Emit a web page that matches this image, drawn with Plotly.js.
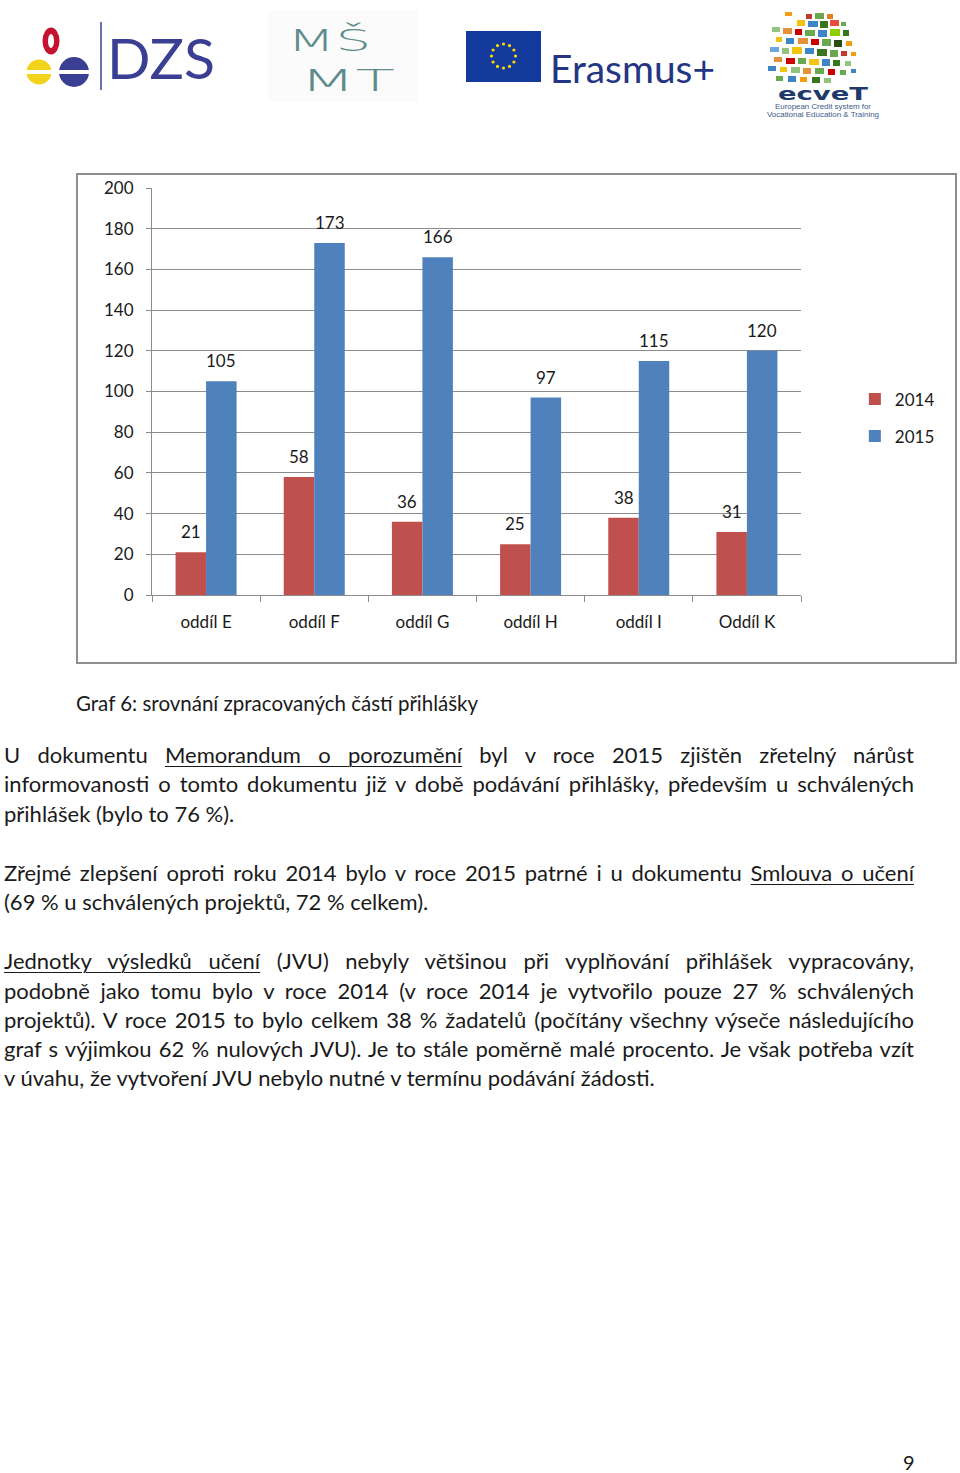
<!DOCTYPE html>
<html>
<head>
<meta charset="utf-8">
<script src="https://cdn.plot.ly/plotly-3.0.1.min.js"></script>
<style>
  html, body { margin: 0; padding: 0; background: #ffffff; }
  body { width: 960px; height: 1473px; position: relative; overflow: hidden; font-family: Lato, "Open Sans", sans-serif; color: #1a1a1a; }
  #logos { position: absolute; left: 0; top: 0; width: 960px; height: 130px; }
  #chartbox { position: absolute; left: 76px; top: 173px; width: 881px; height: 491px; box-sizing: border-box; border: 2px solid #8e8e8e; background: #fff; }
  #chart { width: 877px; height: 487px; }
  .caption { position: absolute; left: 76px; top: 689px; font-size: 20.5px; line-height: 28px; white-space: nowrap; }
  .ln { position: absolute; left: 4px; width: 910px; font-size: 22px; line-height: 29px; white-space: nowrap; }
  .j { text-align: justify; text-align-last: justify; }
  .pn { position: absolute; left: 903px; top: 1448px; font-size: 20px; line-height: 28px; }
  u { text-decoration-thickness: 1px; text-underline-offset: 3px; }
</style>
</head>
<body>
<svg id="logos" width="960" height="130" viewBox="0 0 960 130">
  <!-- DZS -->
  <ellipse cx="51" cy="41" rx="8.5" ry="13.5" fill="#c4122f"/>
  <ellipse cx="51" cy="41" rx="3" ry="7" fill="#ffffff"/>
  <circle cx="39" cy="72" r="12.5" fill="#f2d21b"/>
  <circle cx="74" cy="72" r="15" fill="#3b3f93"/>
  <rect x="24" y="70" width="70" height="4" fill="#ffffff"/>
  <line x1="101" y1="22" x2="101" y2="90" stroke="#3b3f93" stroke-width="1.5"/>
  <text x="107" y="79" font-family="Lato, sans-serif" font-size="56" fill="#3b3f93" textLength="108" lengthAdjust="spacingAndGlyphs">DZS</text>
  <!-- MSMT -->
  <rect x="268" y="10" width="150" height="92" fill="#fbfbfb"/>
  <text x="287" y="51" font-family="DejaVu Sans, sans-serif" font-weight="300" font-size="31" fill="#5e8b8b" textLength="84" lengthAdjust="spacingAndGlyphs">MŠ</text>
  <text x="300" y="91" font-family="DejaVu Sans, sans-serif" font-weight="300" font-size="31" fill="#5e8b8b" textLength="95" lengthAdjust="spacingAndGlyphs">MT</text>
  <!-- Erasmus+ -->
  <rect x="466" y="31" width="75" height="51" fill="#12399b"/>
  <g fill="#ffdd00">
    <circle cx="503.5" cy="44" r="1.6"/><circle cx="509.5" cy="45.6" r="1.6"/><circle cx="513.9" cy="50" r="1.6"/>
    <circle cx="515.5" cy="56" r="1.6"/><circle cx="513.9" cy="62" r="1.6"/><circle cx="509.5" cy="66.4" r="1.6"/>
    <circle cx="503.5" cy="68" r="1.6"/><circle cx="497.5" cy="66.4" r="1.6"/><circle cx="493.1" cy="62" r="1.6"/>
    <circle cx="491.5" cy="56" r="1.6"/><circle cx="493.1" cy="50" r="1.6"/><circle cx="497.5" cy="45.6" r="1.6"/>
  </g>
  <text x="550" y="83" font-family="Lato, sans-serif" font-size="38" fill="#233583" textLength="165" lengthAdjust="spacingAndGlyphs">Erasmus+</text>
  <!-- ECVET -->
  <g>
    <rect x="785" y="12" width="7" height="4" fill="#f39c12"/>
    <rect x="806" y="14" width="6" height="5" fill="#c0392b"/>
    <rect x="815" y="13" width="9" height="6" fill="#6aa84f"/>
    <rect x="827" y="14" width="6" height="5" fill="#e67e22"/>
    <rect x="797" y="20" width="8" height="6" fill="#f1c40f"/>
    <rect x="808" y="21" width="10" height="6" fill="#3d85c6"/>
    <rect x="820" y="21" width="8" height="7" fill="#38761d"/>
    <rect x="830" y="20" width="9" height="6" fill="#e74c3c"/>
    <rect x="841" y="22" width="5" height="4" fill="#6aa84f"/>
    <rect x="772" y="27" width="8" height="5" fill="#93c47d"/>
    <rect x="783" y="28" width="9" height="6" fill="#e69138"/>
    <rect x="795" y="29" width="7" height="6" fill="#cc0000"/>
    <rect x="805" y="30" width="10" height="6" fill="#6aa84f"/>
    <rect x="818" y="30" width="9" height="7" fill="#3d85c6"/>
    <rect x="830" y="29" width="10" height="7" fill="#8fce00"/>
    <rect x="843" y="30" width="6" height="6" fill="#38761d"/>
    <rect x="776" y="37" width="6" height="5" fill="#f1c40f"/>
    <rect x="786" y="38" width="8" height="6" fill="#3d85c6"/>
    <rect x="798" y="38" width="10" height="6" fill="#e69138"/>
    <rect x="811" y="39" width="8" height="6" fill="#cc0000"/>
    <rect x="822" y="39" width="9" height="7" fill="#6aa84f"/>
    <rect x="834" y="40" width="8" height="7" fill="#274e13"/>
    <rect x="846" y="41" width="6" height="5" fill="#f39c12"/>
    <rect x="770" y="47" width="9" height="5" fill="#6fa8dc"/>
    <rect x="782" y="48" width="7" height="6" fill="#93c47d"/>
    <rect x="792" y="47" width="10" height="7" fill="#f1c40f"/>
    <rect x="805" y="48" width="9" height="6" fill="#3d85c6"/>
    <rect x="817" y="49" width="10" height="7" fill="#38761d"/>
    <rect x="830" y="50" width="8" height="7" fill="#6aa84f"/>
    <rect x="841" y="51" width="6" height="5" fill="#c0392b"/>
    <rect x="851" y="52" width="5" height="4" fill="#f39c12"/>
    <rect x="774" y="57" width="8" height="5" fill="#e69138"/>
    <rect x="786" y="58" width="9" height="6" fill="#cc0000"/>
    <rect x="798" y="58" width="8" height="6" fill="#6aa84f"/>
    <rect x="809" y="59" width="10" height="6" fill="#f1c40f"/>
    <rect x="822" y="59" width="8" height="7" fill="#3d85c6"/>
    <rect x="833" y="60" width="7" height="6" fill="#38761d"/>
    <rect x="845" y="61" width="6" height="5" fill="#93c47d"/>
    <rect x="768" y="66" width="8" height="5" fill="#3d85c6"/>
    <rect x="780" y="67" width="7" height="5" fill="#f1c40f"/>
    <rect x="791" y="67" width="9" height="6" fill="#93c47d"/>
    <rect x="803" y="68" width="8" height="6" fill="#e69138"/>
    <rect x="815" y="68" width="9" height="6" fill="#6aa84f"/>
    <rect x="828" y="69" width="7" height="6" fill="#cc0000"/>
    <rect x="840" y="70" width="6" height="5" fill="#6aa84f"/>
    <rect x="851" y="69" width="5" height="4" fill="#3d85c6"/>
    <rect x="776" y="76" width="7" height="5" fill="#6aa84f"/>
    <rect x="788" y="76" width="8" height="6" fill="#3d85c6"/>
    <rect x="800" y="77" width="7" height="5" fill="#f39c12"/>
    <rect x="812" y="77" width="8" height="6" fill="#38761d"/>
    <rect x="824" y="78" width="7" height="5" fill="#93c47d"/>
  </g>
  <text x="778" y="100" font-family="DejaVu Sans, sans-serif" font-weight="bold" font-size="17" fill="#1f3a6a" textLength="90" lengthAdjust="spacingAndGlyphs">ecveT</text>
  <text x="775" y="109" font-family="Liberation Sans, sans-serif" font-size="6.5" fill="#3c5a8a" textLength="96" lengthAdjust="spacingAndGlyphs">European Credit system for</text>
  <text x="767" y="117" font-family="Liberation Sans, sans-serif" font-size="6.5" fill="#3c5a8a" textLength="112" lengthAdjust="spacingAndGlyphs">Vocational Education &amp; Training</text>
</svg>

<div id="chartbox"><div id="chart"></div></div>

<div class="caption">Graf 6: srovnání zpracovaných částí přihlášky</div>

<div class="ln j" style="top:740px">U dokumentu <u>Memorandum o porozumění</u> byl v&nbsp;roce 2015 zjištěn zřetelný nárůst</div>
<div class="ln j" style="top:769px">informovanosti o tomto dokumentu již v době podávání přihlášky, především u schválených</div>
<div class="ln" style="top:799px">přihlášek (bylo to 76 %).</div>

<div class="ln j" style="top:858px">Zřejmé zlepšení oproti roku 2014 bylo v roce 2015 patrné i u dokumentu <u>Smlouva o učení</u></div>
<div class="ln" style="top:887px">(69 % u schválených projektů, 72 % celkem).</div>

<div class="ln j" style="top:946px"><u>Jednotky výsledků učení</u> (JVU) nebyly většinou při vyplňování přihlášek vypracovány,</div>
<div class="ln j" style="top:976px">podobně jako tomu bylo v&nbsp;roce 2014 (v roce 2014 je vytvořilo pouze 27 % schválených</div>
<div class="ln j" style="top:1005px">projektů). V roce 2015 to bylo celkem 38 % žadatelů (počítány všechny výseče následujícího</div>
<div class="ln j" style="top:1034px">graf s výjimkou 62 % nulových JVU). Je to stále poměrně malé procento. Je však potřeba vzít</div>
<div class="ln" style="top:1063px">v úvahu, že vytvoření JVU nebylo nutné v termínu podávání žádosti.</div>

<div class="pn">9</div>

<script>
const categories = ['oddíl E', 'oddíl F', 'oddíl G', 'oddíl H', 'oddíl I', 'Oddíl K'];
const values2014 = [21, 58, 36, 25, 38, 31];
const values2015 = [105, 173, 166, 97, 115, 120];
const seriesNames = ['2014', '2015'];
const seriesColors = ['#c0504d', '#4f81bd'];
const yTickValues = [0, 20, 40, 60, 80, 100, 120, 140, 160, 180, 200];

const series = [values2014, values2015];
const fontFamily = 'Lato, "Open Sans", sans-serif';
const textColor = '#1a1a1a';
const gridColor = '#8c8c8c';

const traces = series.map((vals, i) => ({
  type: 'bar',
  name: seriesNames[i],
  x: categories,
  y: vals,
  marker: { color: seriesColors[i], line: { width: 0 } },
  legendgroup: 'g' + i,
  hoverinfo: 'skip'
}));

const barShift = 15.25;
const annotations = [];
series.forEach((vals, i) => {
  vals.forEach((v, k) => {
    annotations.push({
      x: categories[k], y: v, xref: 'x', yref: 'y',
      text: String(v), showarrow: false,
      xshift: (i === 0 ? -barShift : barShift),
      yanchor: 'bottom', yshift: 8,
      font: { family: fontFamily, size: 17, color: textColor }
    });
  });
});

const layout = {
  width: 877, height: 487,
  margin: { l: 74, r: 154, t: 13, b: 67, pad: 0 },
  paper_bgcolor: '#ffffff', plot_bgcolor: '#ffffff',
  barmode: 'group', bargap: 0.436, bargroupgap: 0,
  showlegend: true,
  legend: {
    x: 1.083, xanchor: 'left', xref: 'paper',
    y: 0.435, yanchor: 'middle',
    font: { family: fontFamily, size: 17, color: textColor },
    itemwidth: 30, tracegroupgap: 12, traceorder: 'grouped',
    bgcolor: 'rgba(0,0,0,0)'
  },
  xaxis: {
    type: 'category',
    showline: true, linecolor: gridColor, linewidth: 1,
    ticks: 'outside', tickson: 'boundaries', ticklen: 6, tickcolor: gridColor,
    tickfont: { family: fontFamily, size: 17, color: textColor },
    ticklabelstandoff: 12,
    showgrid: false, zeroline: false, fixedrange: true
  },
  yaxis: {
    range: [0, 200],
    tickvals: yTickValues,
    ticktext: yTickValues.map(String),
    showline: true, linecolor: gridColor, linewidth: 1,
    ticks: 'outside', ticklen: 5, tickcolor: gridColor,
    ticklabelstandoff: 9,
    showgrid: true, gridcolor: gridColor, gridwidth: 1,
    zeroline: false,
    tickfont: { family: fontFamily, size: 17, color: textColor },
    fixedrange: true
  },
  annotations: annotations
};

Plotly.newPlot('chart', traces, layout, { staticPlot: true, displayModeBar: false });
</script>
</body>
</html>
